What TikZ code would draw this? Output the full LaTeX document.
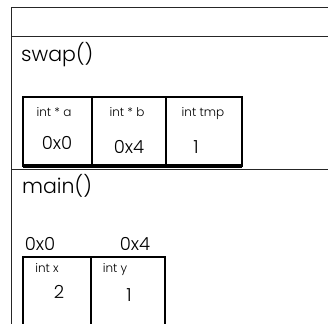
\documentclass[tikz,border=0pt]{standalone}
\usepackage{fontspec}
\setmainfont{Poppins}[UprightFont=* Light]
\begin{document}
\begin{tikzpicture}[x=1pt,y=-1pt,
  frame/.style={line width=1pt,draw=black!85},
  cell/.style={line width=2pt,draw=black},
  title/.style={anchor=base west,inner sep=0pt,font=\fontsize{20.5}{22}\selectfont},
  vartype/.style={anchor=base,inner sep=0pt,font=\fontsize{12}{13}\selectfont},
  varval/.style={anchor=base,inner sep=0pt,font=\fontsize{18}{20}\selectfont},
  addr/.style={anchor=base,inner sep=0pt,font=\fontsize{18}{20}\selectfont}]
  \useasboundingbox (0,0) rectangle (328,323);
  % stack frame outline
  \coordinate (tl) at (11,8);
  \coordinate (tr) at (330,8);
  \coordinate (bl) at (11,325);
  \draw[frame] (tr) -- (tl) -- (bl);
  \coordinate (s1l) at (11,37);  \coordinate (s1r) at (330,37);
  \coordinate (s2l) at (11,169); \coordinate (s2r) at (330,169);
  \draw[frame] (s1l) -- (s1r);
  \draw[frame] (s2l) -- (s2r);
  % swap() frame
  \node[title] (swapt) at (21,62) {swap()};
  \coordinate (sa) at (23,97);  \coordinate (sb) at (242,166);
  \draw[cell] (sa) rectangle (sb);
  \coordinate (d1t) at (92,97);  \coordinate (d1b) at (92,166);
  \coordinate (d2t) at (166,97); \coordinate (d2b) at (166,166);
  \draw[cell] (d1t) -- (d1b);
  \draw[cell] (d2t) -- (d2b);
  \coordinate (sbl) at (23,166);
  \draw[line width=4pt] (sbl) -- (sb);
  \node[vartype] (ta) at (54,117) {int * a};
  \node[vartype] (tb) at (127,117) {int * b};
  \node[vartype] (tt) at (203,117) {int tmp};
  \node[varval] (va) at (57,149) {0x0};
  \node[varval] (vb) at (129,153) {0x4};
  \node[varval] (vt) at (196,153) {1};
  % main() frame
  \node[title] (maint) at (22,193) {main()};
  \node[addr] (ax) at (40,250) {0x0};
  \node[addr] (ay) at (135,250) {0x4};
  \coordinate (ma) at (23,257); \coordinate (mb) at (165,330);
  \draw[cell] (ma) rectangle (mb);
  \coordinate (m1t) at (91,257); \coordinate (m1b) at (91,330);
  \draw[cell] (m1t) -- (m1b);
  \node[vartype] (tx) at (47,272) {int x};
  \node[vartype] (ty) at (115,272) {int y};
  \node[varval] (vx) at (59,298) {2};
  \node[varval] (vy) at (129,301) {1};
\end{tikzpicture}
\end{document}
